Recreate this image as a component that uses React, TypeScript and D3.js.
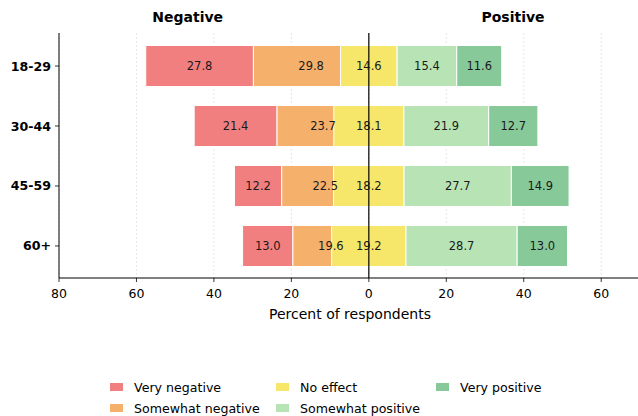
import React from "react";
import * as d3 from "d3";

const groups = ["18-29", "30-44", "45-59", "60+"];
const veryNegative = [27.8, 21.4, 12.2, 13.0];
const somewhatNegative = [29.8, 23.7, 22.5, 19.6];
const noEffect = [14.6, 18.1, 18.2, 19.2];
const somewhatPositive = [15.4, 21.9, 27.7, 28.7];
const veryPositive = [11.6, 12.7, 14.9, 13.0];
const xTicks = [-80, -60, -40, -20, 0, 20, 40, 60];
const legendLabels = ["Very negative", "Somewhat negative", "No effect", "Somewhat positive", "Very positive"];
const colors = ["#f27f7f", "#f5b06b", "#f6e66a", "#b8e4b5", "#88c99a"];

const W = 638, H = 416;
const FONT = "DejaVu Sans, sans-serif";

export default function App() {
  const x = d3.scaleLinear().domain([-80, 69.5]).range([59, 638]);
  const y = d3.scaleBand<string>().domain(groups).range([36.5, 275.5]).paddingInner(0.315).paddingOuter(0.15);
  const top = 33, bottom = 278;

  const segs: { x0: number; x1: number; c: number; v: number; g: string; lx: number }[] = [];
  groups.forEach((g, i) => {
    const vn = veryNegative[i], sn = somewhatNegative[i], ne = noEffect[i], sp = somewhatPositive[i], vp = veryPositive[i];
    segs.push({ x0: -(vn + sn), x1: -sn, c: 0, v: vn, g, lx: -sn - vn / 2 });
    segs.push({ x0: -sn, x1: 0, c: 1, v: sn, g, lx: -sn / 2 });
    segs.push({ x0: -ne / 2, x1: ne / 2, c: 2, v: ne, g, lx: 0 });
    segs.push({ x0: ne / 2, x1: ne / 2 + sp, c: 3, v: sp, g, lx: ne / 2 + sp / 2 });
    segs.push({ x0: ne / 2 + sp, x1: ne / 2 + sp + vp, c: 4, v: vp, g, lx: ne / 2 + sp + vp / 2 });
  });

  const legendPos = [
    [110, 387], [110, 408], [276, 387], [276, 408], [436, 387],
  ];

  return (
    <svg width={W} height={H} style={{ position: "absolute", left: 0, top: 0, background: "#fff" }} fontFamily={FONT}>
      {xTicks.map((t) => (
        <line key={"g" + t} x1={x(t)} x2={x(t)} y1={top} y2={bottom} stroke="#d8d8d8" strokeWidth={0.8} strokeDasharray="1.5,2.5" />
      ))}
      {segs.map((s, k) => (
        <rect key={k} x={x(s.x0)} y={y(s.g)!} width={x(s.x1) - x(s.x0)} height={y.bandwidth()} fill={colors[s.c]} stroke="#fff" strokeWidth={1} />
      ))}
      <line x1={x(0)} x2={x(0)} y1={top} y2={bottom} stroke="#000" strokeWidth={1.2} />
      {segs.map((s, k) => (
        <text key={"t" + k} x={x(s.lx)} y={y(s.g)! + y.bandwidth() / 2} textAnchor="middle" dominantBaseline="central" fontSize={11.5} fill="#1a1a1a">
          {s.v.toFixed(1)}
        </text>
      ))}
      <line x1={59} x2={59} y1={top} y2={bottom} stroke="#000" strokeWidth={1} />
      <line x1={59} x2={638} y1={bottom} y2={bottom} stroke="#000" strokeWidth={1} />
      {groups.map((g) => {
        const cy = y(g)! + y.bandwidth() / 2;
        return (
          <g key={"y" + g}>
            <line x1={55} x2={59} y1={cy} y2={cy} stroke="#000" strokeWidth={0.8} />
            <text x={51} y={cy} textAnchor="end" dominantBaseline="central" fontSize={12.6} fontWeight="bold">{g}</text>
          </g>
        );
      })}
      {xTicks.map((t) => (
        <g key={"x" + t}>
          <line x1={x(t)} x2={x(t)} y1={bottom} y2={bottom + 4} stroke="#000" strokeWidth={0.8} />
          <text x={x(t)} y={bottom + 16} textAnchor="middle" dominantBaseline="middle" fontSize={12.5}>{Math.abs(t)}</text>
        </g>
      ))}
      <text x={350} y={315} textAnchor="middle" dominantBaseline="middle" fontSize={14}>Percent of respondents</text>
      <text x={187.7} y={18} textAnchor="middle" dominantBaseline="middle" fontSize={14} fontWeight="bold">Negative</text>
      <text x={513} y={18} textAnchor="middle" dominantBaseline="middle" fontSize={14} fontWeight="bold">Positive</text>
      {legendLabels.map((l, i) => (
        <g key={"l" + i}>
          <rect x={legendPos[i][0]} y={legendPos[i][1] - 4} width={13} height={8} fill={colors[i]} />
          <text x={legendPos[i][0] + 24} y={legendPos[i][1]} dominantBaseline="central" fontSize={12.6}>{l}</text>
        </g>
      ))}
    </svg>
  );
}
